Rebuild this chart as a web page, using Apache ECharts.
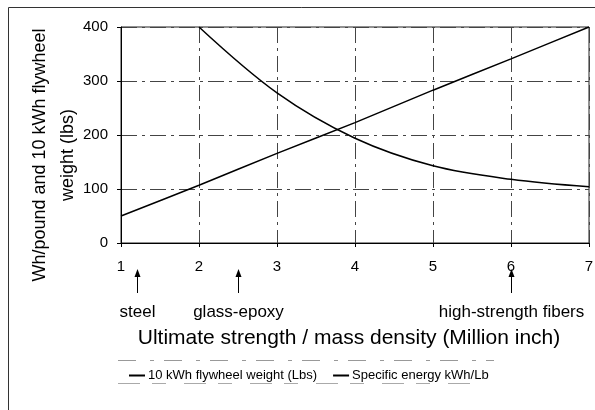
<!DOCTYPE html>
<html>
<head>
<meta charset="utf-8">
<script src="https://cdn.jsdelivr.net/npm/echarts@6/dist/echarts.min.js"></script>
<style>
html, body { margin: 0; padding: 0; background: #fff; }
#main { width: 595px; height: 410px; }
</style>
</head>
<body>
<div id="main"></div>
<script>
// values
var strengthRatio = [1, 2, 3, 4, 5, 6, 7];
var specificEnergy = [50, 107, 166, 223, 283, 341, 400];
var flywheelWeight = [null, 400, 278, 194, 143, 118, 104];
var yTicks = [0, 100, 200, 300, 400];
var materials = [
    { name: 'steel', at: 1.2 },
    { name: 'glass-epoxy', at: 2.5 },
    { name: 'high-strength fibers', at: 6 }
];
var yTitle = 'Wh/pound and 10 kWh flywheel\nweight (lbs)';

var FONT = 'Arial, "Liberation Sans", sans-serif';

function pairs(xs, ys) {
    var out = [];
    for (var i = 0; i < xs.length; i++) {
        if (ys[i] != null) out.push([xs[i], ys[i]]);
    }
    return out;
}

var gridDash = { color: '#444', width: 1, type: [16, 5, 3, 5] };

var chart = echarts.init(document.getElementById('main'), null, { renderer: 'canvas' });

var option = {
    animation: false,
    backgroundColor: '#fff',
    textStyle: { fontFamily: FONT, color: '#000' },
    grid: {
        left: 121, right: 6, top: 27, bottom: 167,
        show: true, borderColor: '#222', borderWidth: 1,
        containLabel: false, outerBoundsMode: 'none'
    },
    legend: {
        top: 364,
        left: 124,
        itemWidth: 16,
        itemHeight: 2,
        itemGap: 16,
        icon: 'rect',
        textStyle: { fontSize: 13, fontFamily: FONT, color: '#000', padding: [0, 0, 0, -2] },
        data: ['10 kWh flywheel weight (Lbs)', 'Specific energy kWh/Lb']
    },
    xAxis: {
        type: 'value',
        min: 1, max: 7, interval: 1,
        name: 'Ultimate strength / mass density (Million inch)',
        nameLocation: 'middle',
        nameGap: 85,
        nameTextStyle: { fontSize: 21, fontFamily: FONT, color: '#000', padding: [0, 12, 0, 0] },
        axisLine: { show: true, lineStyle: { color: '#000', width: 1 } },
        axisTick: { show: true, length: 4, lineStyle: { color: '#000' } },
        axisLabel: { fontSize: 15, color: '#000', margin: 16, fontFamily: FONT },
        splitLine: { show: true, lineStyle: gridDash }
    },
    yAxis: {
        type: 'value',
        min: yTicks[0], max: yTicks[yTicks.length - 1], interval: 100,
        axisLine: { show: true, lineStyle: { color: '#000', width: 1 } },
        axisTick: { show: true, length: 4, lineStyle: { color: '#000' } },
        axisLabel: { fontSize: 15, color: '#000', margin: 13, fontFamily: FONT },
        splitLine: { show: true, lineStyle: gridDash }
    },
    series: [
        {
            name: '10 kWh flywheel weight (Lbs)',
            type: 'line',
            smooth: 0.35,
            showSymbol: false,
            symbol: 'none',
            color: '#000',
            lineStyle: { color: '#000', width: 1.5 },
            data: pairs(strengthRatio, flywheelWeight)
        },
        {
            name: 'Specific energy kWh/Lb',
            type: 'line',
            smooth: 0.2,
            showSymbol: false,
            symbol: 'none',
            color: '#000',
            lineStyle: { color: '#000', width: 1.5 },
            data: pairs(strengthRatio, specificEnergy)
        }
    ]
};

chart.setOption(option);

// material arrows and labels placed through the x scale
var base = chart.convertToPixel({ yAxisIndex: 0 }, 0);
var extras = [];
materials.forEach(function (m) {
    var px = Math.round(chart.convertToPixel({ xAxisIndex: 0 }, m.at)) + 0.5;
    extras.push({
        type: 'line', silent: true,
        shape: { x1: px, y1: base + 50, x2: px, y2: base + 32 },
        style: { stroke: '#000', lineWidth: 1 }
    });
    extras.push({
        type: 'polygon', silent: true,
        shape: { points: [[px, base + 26], [px - 3, base + 34], [px + 3, base + 34]] },
        style: { fill: '#000' }
    });
    extras.push({
        type: 'text', silent: true,
        x: px, y: base + 69,
        style: {
            text: m.name, fontSize: 17, fontFamily: FONT, fill: '#000',
            align: 'center', verticalAlign: 'middle'
        }
    });
});

// y axis title, two rotated lines
extras.push({
    type: 'text', silent: true,
    x: 54, y: 155, rotation: Math.PI / 2,
    style: {
        text: yTitle, fontSize: 18, fontFamily: FONT, fill: '#000',
        align: 'center', verticalAlign: 'middle', lineHeight: 28
    }
});

// scanned frame and legend box remnants
extras.push({
    type: 'polyline', silent: true,
    shape: { points: [[8.5, 410], [8.5, 7.5], [595, 7.5]] },
    style: { stroke: '#333', lineWidth: 1, fill: null }
});
extras.push({
    type: 'line', silent: true,
    shape: { x1: 118, y1: 360.5, x2: 494, y2: 360.5 },
    style: { stroke: '#999', lineWidth: 1, lineDash: [18, 14, 4, 10] }
});
extras.push({
    type: 'line', silent: true,
    shape: { x1: 118, y1: 383.5, x2: 480, y2: 383.5 },
    style: { stroke: '#aaa', lineWidth: 1, lineDash: [22, 12, 14, 18] }
});

chart.setOption({ graphic: { elements: extras } });
</script>
</body>
</html>
